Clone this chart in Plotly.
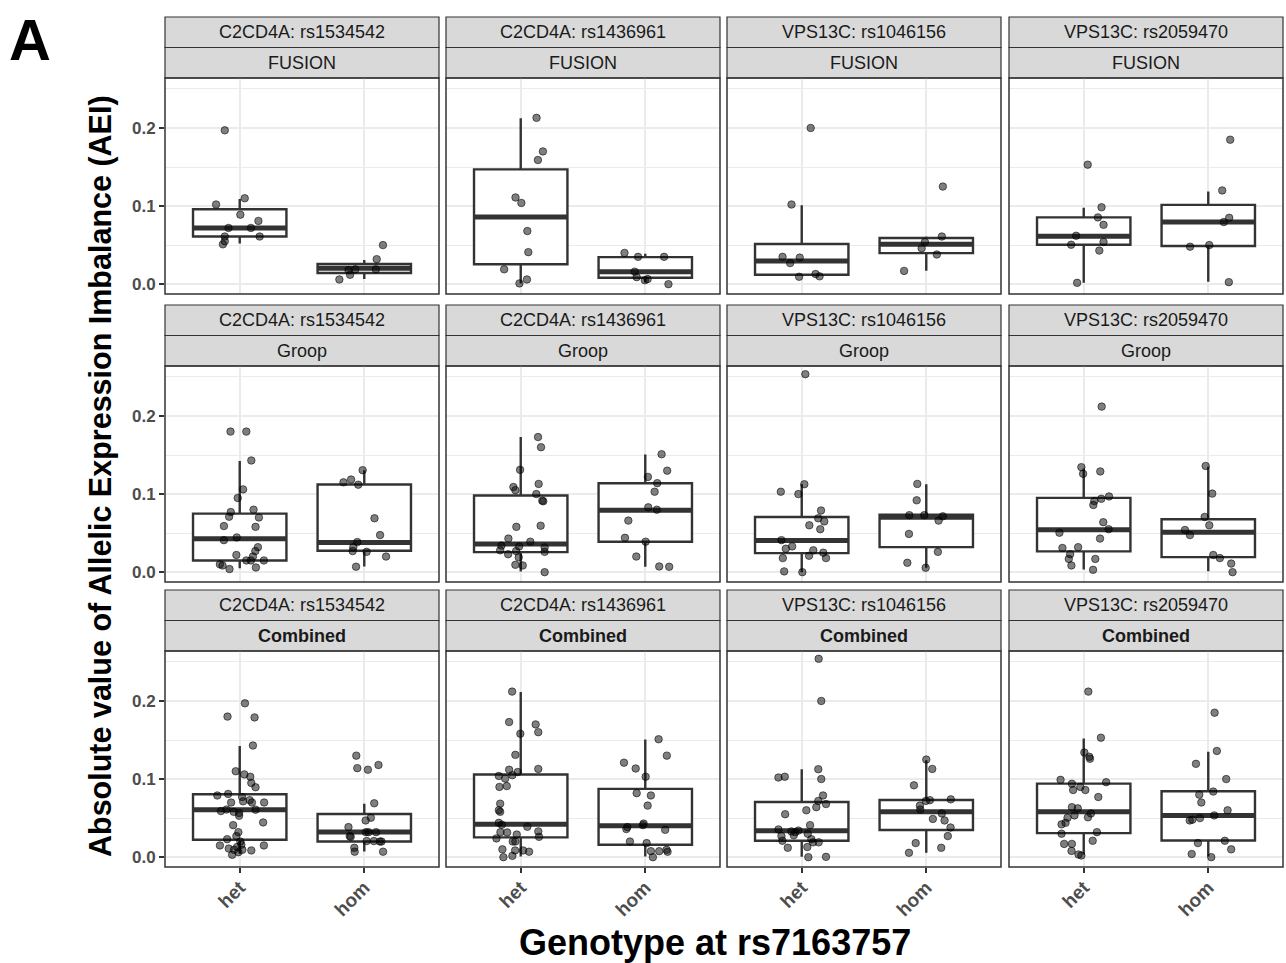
import plotly.graph_objects as go

# ---------------- data ----------------
cohorts = ["FUSION", "Groop", "Combined"]
snps = ["C2CD4A: rs1534542", "C2CD4A: rs1436961", "VPS13C: rs1046156", "VPS13C: rs2059470"]
genotypes = ["het", "hom"]
y_ticks = [0.0, 0.1, 0.2]
y_tick_labels = ["0.0", "0.1", "0.2"]

# box stats: [lower whisker, q1, median, q3, upper whisker]
# ---- FUSION ----
fusion_s1_het = [0.197, 0.102, 0.110, 0.089, 0.081, 0.072, 0.072, 0.061, 0.061, 0.055, 0.051]
fusion_s1_het_jit = [-0.12, -0.19, 0.04, 0.005, 0.15, -0.09, 0.09, -0.12, 0.16, -0.12, -0.135]
fusion_s1_het_box = [0.052, 0.061, 0.072, 0.096, 0.109]
fusion_s1_hom = [0.050, 0.032, 0.019, 0.019, 0.018, 0.012, 0.006]
fusion_s1_hom_jit = [0.15, 0.10, 0.093, -0.072, -0.127, -0.114, -0.20]
fusion_s1_hom_box = [0.0065, 0.0143, 0.0203, 0.0259, 0.031]

fusion_s2_het = [0.213, 0.170, 0.159, 0.111, 0.104, 0.068, 0.041, 0.019, 0.006, 0.001]
fusion_s2_het_jit = [0.127, 0.178, 0.138, -0.042, 0.005, 0.053, 0.061, -0.133, 0.05, -0.01]
fusion_s2_het_box = [0.001, 0.0255, 0.086, 0.147, 0.2125]
fusion_s2_hom = [0.040, 0.035, 0.035, 0.016, 0.009, 0.0065, 0.005, 0.0]
fusion_s2_hom_jit = [-0.167, -0.058, 0.151, -0.085, -0.069, 0.019, -0.003, 0.186]
fusion_s2_hom_box = [0.002, 0.0082, 0.016, 0.0346, 0.039]

fusion_s3_het = [0.200, 0.102, 0.035, 0.034, 0.027, 0.0095, 0.013, 0.010]
fusion_s3_het_jit = [0.072, -0.082, -0.154, -0.016, -0.093, -0.021, 0.111, 0.143]
fusion_s3_het_box = [0.0117, 0.0121, 0.0298, 0.0514, 0.101]
fusion_s3_hom = [0.125, 0.061, 0.054, 0.046, 0.038, 0.017]
fusion_s3_hom_jit = [0.133, 0.125, -0.011, -0.037, 0.085, -0.178]
fusion_s3_hom_box = [0.0173, 0.0397, 0.051, 0.0592, 0.0609]

fusion_s4_het = [0.153, 0.0985, 0.0855, 0.076, 0.062, 0.054, 0.0505, 0.043, 0.0017]
fusion_s4_het_jit = [0.032, 0.143, 0.114, 0.159, -0.061, 0.159, -0.101, 0.125, -0.053]
fusion_s4_het_box = [0.0017, 0.0505, 0.0613, 0.0855, 0.098]
fusion_s4_hom = [0.185, 0.120, 0.085, 0.0795, 0.048, 0.050, 0.0026]
fusion_s4_hom_jit = [0.176, 0.112, 0.168, 0.125, -0.146, 0.008, 0.165]
fusion_s4_hom_box = [0.003, 0.0488, 0.0795, 0.1015, 0.1188]

# ---- Groop ----
groop_s1_het = [0.180, 0.180, 0.143, 0.106, 0.095, 0.077, 0.080, 0.071, 0.070, 0.059, 0.058, 0.0445,
                0.041, 0.032, 0.027, 0.022, 0.020, 0.015, 0.015, 0.015, 0.010, 0.0086, 0.006, 0.004]
groop_s1_het_jit = [-0.074, 0.053, 0.093, 0.027, -0.016, -0.072, 0.111, -0.085, 0.154, -0.127, 0.127, -0.024,
                    -0.127, 0.146, 0.125, -0.027, 0.106, 0.053, 0.09, 0.194, -0.159, -0.138, 0.13, -0.082]
groop_s1_het_box = [0.005, 0.015, 0.0428, 0.075, 0.1422]
groop_s1_hom = [0.1306, 0.115, 0.1186, 0.112, 0.069, 0.0475, 0.0385, 0.032, 0.027, 0.026, 0.020, 0.007]
groop_s1_hom_jit = [-0.013, -0.167, -0.106, -0.048, 0.082, 0.127, -0.056, -0.088, -0.093, 0.019, 0.175, -0.066]
groop_s1_hom_box = [0.0073, 0.0274, 0.0381, 0.1122, 0.1306]

groop_s2_het = [0.173, 0.160, 0.131, 0.113, 0.109, 0.105, 0.100, 0.0916, 0.0908, 0.058, 0.0595, 0.043,
                0.039, 0.034, 0.033, 0.028, 0.0317, 0.023, 0.027, 0.026, 0.019, 0.0094, 0.0086, 0.0]
groop_s2_het_jit = [0.139, 0.163, -0.005, 0.144, -0.059, -0.043, 0.125, 0.173, 0.181, -0.035, 0.16, -0.099,
                    0.077, -0.155, -0.013, -0.165, 0.192, -0.101, -0.037, 0.192, -0.016, -0.043, 0.016, 0.192]
groop_s2_het_box = [0.001, 0.0257, 0.036, 0.0981, 0.173]
groop_s2_hom = [0.151, 0.130, 0.122, 0.114, 0.103, 0.083, 0.080, 0.066, 0.044, 0.039, 0.020, 0.0073, 0.0069]
groop_s2_hom_jit = [0.131, 0.176, 0.021, 0.096, 0.075, 0.024, 0.093, -0.136, -0.163, 0.003, -0.072, 0.112, 0.192]
groop_s2_hom_box = [0.0069, 0.039, 0.0792, 0.1139, 0.1507]

groop_s3_het = [0.2535, 0.1126, 0.103, 0.100, 0.079, 0.069, 0.065, 0.055, 0.060, 0.041, 0.030, 0.033,
                0.028, 0.021, 0.025, 0.018, 0.018, 0.001, 0.0]
groop_s3_het_jit = [0.029, 0.021, -0.168, -0.027, 0.155, 0.133, 0.181, 0.149, 0.061, -0.163, -0.128, -0.077,
                    0.093, 0.059, 0.173, 0.195, -0.152, -0.141, 0.005]
groop_s3_het_box = [0.0, 0.0244, 0.0407, 0.0707, 0.1126]
groop_s3_hom = [0.113, 0.092, 0.073, 0.073, 0.0715, 0.066, 0.049, 0.026, 0.012, 0.0056]
groop_s3_hom_jit = [-0.072, -0.077, -0.136, -0.016, 0.133, 0.099, -0.139, 0.093, -0.152, -0.005]
groop_s3_hom_box = [0.0056, 0.0321, 0.0702, 0.0737, 0.1126]

groop_s4_het = [0.212, 0.1345, 0.126, 0.129, 0.097, 0.094, 0.091, 0.086, 0.064, 0.055, 0.0505, 0.043,
                0.031, 0.032, 0.023, 0.017, 0.017, 0.0086, 0.003]
groop_s4_het_jit = [0.144, -0.019, -0.005, 0.133, 0.203, 0.141, 0.085, 0.077, 0.157, 0.2, -0.195, 0.131,
                    -0.171, -0.045, -0.109, -0.12, 0.093, -0.099, 0.075]
groop_s4_het_box = [0.0034, 0.0266, 0.0544, 0.0951, 0.1328]
groop_s4_hom = [0.136, 0.1006, 0.0707, 0.060, 0.054, 0.0475, 0.022, 0.018, 0.011, 0.0]
groop_s4_hom_jit = [-0.021, 0.032, -0.029, 0.008, -0.187, -0.147, 0.04, 0.093, 0.184, 0.195]
groop_s4_hom_box = [0.0013, 0.0193, 0.051, 0.0677, 0.1349]

# ---- Combined ----
combined_s1_het = [0.197, 0.180, 0.179, 0.143, 0.110, 0.106, 0.103, 0.095, 0.0895, 0.079, 0.081, 0.077,
                   0.0715, 0.073, 0.070, 0.070, 0.070, 0.059, 0.061, 0.058, 0.0565, 0.053, 0.0608, 0.0445,
                   0.041, 0.032, 0.023, 0.027, 0.020, 0.016, 0.015, 0.013, 0.011, 0.0094, 0.015, 0.0086,
                   0.0094, 0.0064, 0.003]
combined_s1_het_jit = [0.042, -0.098, 0.119, 0.106, -0.032, 0.037, 0.085, 0.093, 0.127, -0.18, -0.093, 0.019,
                       0.027, 0.08, 0.098, -0.069, 0.196, -0.151, -0.106, -0.048, -0.005, -0.005, 0.127, 0.188,
                       -0.053, -0.011, -0.101, -0.027, 0.005, 0.013, -0.159, -0.021, -0.088, -0.045, 0.194, 0.093,
                       0.021, -0.011, -0.061]
combined_s1_het_box = [0.0043, 0.0223, 0.0608, 0.0805, 0.1422]
combined_s1_hom = [0.130, 0.114, 0.112, 0.118, 0.069, 0.0505, 0.047, 0.0385, 0.027, 0.032, 0.032, 0.032,
                   0.026, 0.0206, 0.0206, 0.020, 0.020, 0.012, 0.007, 0.007]
combined_s1_hom_jit = [-0.064, -0.056, 0.029, 0.114, 0.08, 0.053, 0.011, -0.127, -0.117, 0.013, 0.034, 0.095,
                       -0.109, 0.019, 0.077, 0.125, 0.138, -0.08, -0.077, 0.151]
combined_s1_hom_box = [0.0073, 0.0201, 0.0321, 0.0552, 0.0685]

combined_s2_het = [0.212, 0.173, 0.170, 0.160, 0.158, 0.131, 0.112, 0.113, 0.104, 0.1006, 0.105, 0.109,
                   0.090, 0.091, 0.0685, 0.060, 0.058, 0.044, 0.0415, 0.039, 0.032, 0.0317, 0.029, 0.033,
                   0.024, 0.026, 0.020, 0.020, 0.010, 0.0086, 0.0086, 0.007, 0.0, 0.0017]
combined_s2_het_jit = [-0.069, -0.093, 0.12, 0.141, -0.003, -0.043, -0.093, 0.141, -0.176, -0.125, -0.067, -0.024,
                       -0.171, -0.112, -0.165, -0.176, -0.165, -0.176, -0.152, 0.053, -0.163, -0.109, -0.032, 0.141,
                       -0.195, 0.147, -0.064, -0.043, -0.147, -0.045, 0.019, 0.067, -0.139, -0.067]
combined_s2_het_box = [0.0009, 0.0253, 0.042, 0.1058, 0.2116]
combined_s2_hom = [0.151, 0.130, 0.121, 0.1135, 0.103, 0.082, 0.079, 0.066, 0.036, 0.0385, 0.043, 0.041,
                   0.035, 0.020, 0.018, 0.0077, 0.0077, 0.0069, 0.0094, 0.0]
combined_s2_hom_jit = [0.107, 0.173, -0.171, -0.077, 0.003, -0.069, 0.045, 0.019, -0.152, -0.144, -0.013, -0.019,
                       0.16, -0.123, 0.011, 0.045, 0.112, 0.179, 0.171, 0.061]
combined_s2_hom_box = [0.0009, 0.0158, 0.0403, 0.0874, 0.1507]

combined_s3_het = [0.254, 0.200, 0.1126, 0.102, 0.103, 0.100, 0.079, 0.072, 0.068, 0.064, 0.060, 0.055,
                   0.041, 0.0355, 0.032, 0.033, 0.034, 0.030, 0.027, 0.028, 0.023, 0.021, 0.019, 0.019,
                   0.013, 0.012, 0.0, 0.0004]
combined_s3_het_jit = [0.136, 0.157, 0.133, -0.187, -0.136, 0.157, 0.171, 0.133, 0.195, 0.117, 0.037, -0.133,
                       0.067, -0.187, -0.053, -0.083, -0.027, 0.048, -0.163, -0.064, 0.077, -0.155, 0.091, 0.136,
                       0.045, -0.112, 0.053, 0.195]
combined_s3_het_box = [0.0004, 0.021, 0.0338, 0.0707, 0.1126]
combined_s3_hom = [0.125, 0.113, 0.092, 0.073, 0.074, 0.072, 0.066, 0.061, 0.056, 0.047, 0.049, 0.038,
                   0.027, 0.018, 0.012, 0.0056]
combined_s3_hom_jit = [0.0, 0.048, -0.099, 0.029, 0.197, -0.003, -0.051, -0.048, 0.125, 0.147, 0.053, 0.195,
                       0.173, -0.085, 0.12, -0.139]
combined_s3_hom_box = [0.0056, 0.0347, 0.0582, 0.0732, 0.1242]

combined_s4_het = [0.212, 0.153, 0.134, 0.1285, 0.126, 0.099, 0.096, 0.094, 0.090, 0.086, 0.086, 0.077,
                   0.064, 0.0625, 0.0535, 0.056, 0.051, 0.0505, 0.044, 0.042, 0.032, 0.030, 0.021, 0.017,
                   0.017, 0.008, 0.0034, 0.0021]
combined_s4_het_jit = [0.037, 0.138, 0.005, 0.045, 0.05, -0.186, 0.18, -0.095, -0.027, -0.085, 0.013, 0.117,
                       -0.095, -0.048, -0.074, 0.058, 0.034, -0.13, -0.146, -0.178, 0.106, -0.178, 0.072, -0.157,
                       -0.095, -0.098, -0.042, -0.019]
combined_s4_het_box = [0.0034, 0.0308, 0.0582, 0.0942, 0.152]
combined_s4_hom = [0.185, 0.136, 0.1195, 0.100, 0.084, 0.080, 0.070, 0.060, 0.0535, 0.047, 0.048, 0.050,
                   0.018, 0.021, 0.010, 0.004, 0.0]
combined_s4_hom_jit = [0.051, 0.069, -0.099, 0.144, 0.04, -0.072, -0.056, 0.155, 0.048, -0.149, -0.128, -0.067,
                       -0.083, 0.133, 0.184, -0.133, 0.024]
combined_s4_hom_box = [0.0009, 0.0214, 0.0535, 0.0844, 0.1349]

# ---------------- assemble ----------------
g = globals()
FONT = "Liberation Sans, Arial, Helvetica, sans-serif"
W, H = 1286, 963
col_px = [(165, 439), (446, 720), (727, 1001), (1009, 1283)]
row_px = [(78, 294), (366, 582), (651, 867)]
strip_h = 30.5
Y_RANGE = [-0.0126, 0.264]
X_RANGE = [0.4, 2.6]
BOX_W = 0.75
DARK = "#333333"

fig = go.Figure()
shapes, annotations = [], []
layout_axes = {}

for r, cohort in enumerate(cohorts):
    for c, snp in enumerate(snps):
        idx = r * 4 + c + 1
        xa = "x" if idx == 1 else f"x{idx}"
        ya = "y" if idx == 1 else f"y{idx}"
        xkey = "xaxis" if idx == 1 else f"xaxis{idx}"
        ykey = "yaxis" if idx == 1 else f"yaxis{idx}"
        l, rr = col_px[c]
        t, b = row_px[r]
        prefix = f"{cohort.lower()}_s{c + 1}"
        for gi, gt in enumerate(genotypes):
            pos = gi + 1
            lo, q1, med, q3, hi = g[f"{prefix}_{gt}_box"]
            fig.add_trace(go.Box(
                x=[pos], q1=[q1], median=[med], q3=[q3], lowerfence=[lo], upperfence=[hi],
                width=BOX_W, fillcolor="white", line=dict(color=DARK, width=2.4),
                whiskerwidth=0, boxpoints=False, hoverinfo="skip",
                xaxis=xa, yaxis=ya, showlegend=False))
            fig.add_trace(go.Scatter(
                x=[pos - BOX_W / 2, pos + BOX_W / 2], y=[med, med], mode="lines",
                line=dict(color=DARK, width=5), hoverinfo="skip",
                xaxis=xa, yaxis=ya, showlegend=False))
        for gi, gt in enumerate(genotypes):
            pos = gi + 1
            ys = g[f"{prefix}_{gt}"]
            js = g[f"{prefix}_{gt}_jit"]
            fig.add_trace(go.Scatter(
                x=[pos + j for j in js], y=ys, mode="markers",
                marker=dict(size=7.5, color="rgba(0,0,0,0.5)",
                            line=dict(color="rgba(0,0,0,0.55)", width=1)),
                xaxis=xa, yaxis=ya, showlegend=False))

        layout_axes[xkey] = dict(
            domain=[l / W, rr / W], range=X_RANGE, anchor=ya,
            tickvals=[1, 2], ticktext=[f"<b>{s}</b>" for s in genotypes],
            showgrid=True, gridcolor="#EBEBEB", gridwidth=1.5, zeroline=False,
            showticklabels=(r == 2), ticks="outside" if r == 2 else "",
            ticklen=5, tickwidth=1.5, tickcolor=DARK, tickangle=-45,
            ticklabelstandoff=-4,
            tickfont=dict(family=FONT, size=19, color="#4D4D4D"),
            showline=False, fixedrange=True)
        layout_axes[ykey] = dict(
            domain=[1 - b / H, 1 - t / H], range=Y_RANGE, anchor=xa,
            tickvals=y_ticks, ticktext=[f"<b>{s}</b>" for s in y_tick_labels],
            showgrid=True, gridcolor="#EBEBEB", gridwidth=1.5, zeroline=False,
            minor=dict(tickvals=[0.05, 0.15, 0.25], showgrid=True, gridcolor="#EBEBEB", gridwidth=0.8, ticks=""),
            showticklabels=(c == 0), ticks="outside" if c == 0 else "",
            ticklen=5, tickwidth=1.5, tickcolor=DARK,
            tickfont=dict(family=FONT, size=17, color="#4D4D4D"),
            showline=False, fixedrange=True)

        # panel border
        shapes.append(dict(type="rect", xref="paper", yref="paper",
                           x0=l / W, x1=rr / W, y0=1 - b / H, y1=1 - t / H,
                           line=dict(color=DARK, width=1.5), fillcolor="rgba(0,0,0,0)", layer="above"))
        # strips
        s_top = t - 2 * strip_h
        for k, label in enumerate([snp, cohort]):
            y0px = s_top + k * strip_h
            y1px = y0px + strip_h
            shapes.append(dict(type="rect", xref="paper", yref="paper",
                               x0=l / W, x1=rr / W, y0=1 - y1px / H, y1=1 - y0px / H,
                               line=dict(color=DARK, width=1.2), fillcolor="#D9D9D9", layer="below"))
            txt = f"<b>{label}</b>" if (k == 1 and cohort == "Combined") else label
            annotations.append(dict(x=(l + rr) / 2 / W, y=1 - (y0px + y1px) / 2 / H,
                                    xref="paper", yref="paper", text=txt, showarrow=False,
                                    xanchor="center", yanchor="middle",
                                    font=dict(family=FONT, size=18, color="#1A1A1A")))

annotations.append(dict(x=100 / W, y=1 - 476 / H, xref="paper", yref="paper",
                        text="<b>Absolute value of Allelic Expression Imbalance (AEI)</b>",
                        textangle=-90, showarrow=False, xanchor="center", yanchor="middle",
                        font=dict(family=FONT, size=30.5, color="black")))
annotations.append(dict(x=715 / W, y=1 - 942 / H, xref="paper", yref="paper",
                        text="<b>Genotype at rs7163757</b>", showarrow=False,
                        xanchor="center", yanchor="middle",
                        font=dict(family=FONT, size=36, color="black")))
annotations.append(dict(x=30 / W, y=1 - 39 / H, xref="paper", yref="paper",
                        text="<b>A</b>", showarrow=False, xanchor="center", yanchor="middle",
                        font=dict(family=FONT, size=58, color="black")))

fig.update_layout(
    width=W, height=H, margin=dict(l=0, r=0, t=0, b=0),
    paper_bgcolor="white", plot_bgcolor="white",
    shapes=shapes, annotations=annotations, boxmode="overlay",
    **layout_axes)

fig.write_html("out.html", config={"displayModeBar": False},
               post_script="document.body.style.margin='0px';document.body.style.padding='0px';")
